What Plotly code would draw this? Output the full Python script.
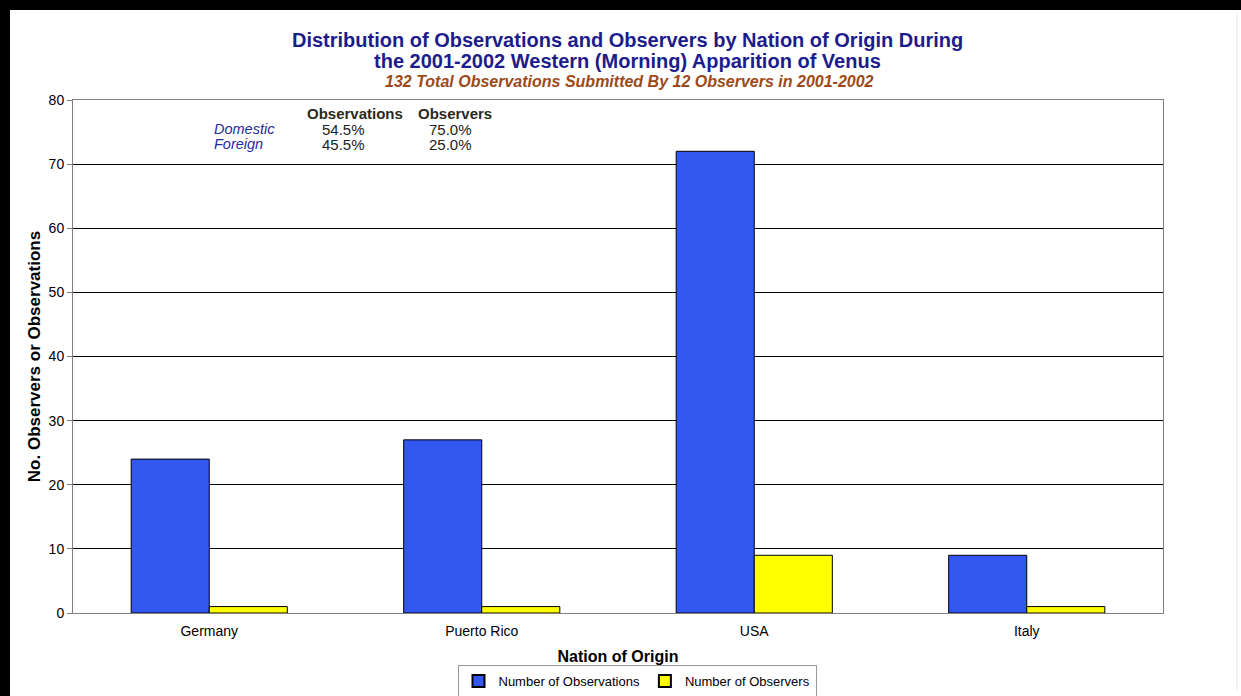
import plotly.graph_objects as go

# Venus 2001-2002 western apparition: counts by observer nation
nations = ["Germany", "Puerto Rico", "USA", "Italy"]
observations = [24, 27, 72, 9]
observers = [1, 1, 9, 1]

# summary table text
table_cols = ["Observations", "Observers"]
table_rows = ["Domestic", "Foreign"]
table_vals = [["54.5%", "75.0%"], ["45.5%", "25.0%"]]

W, H = 1241, 696
ML, MR, MT, MB = 73, 78, 100, 83
PW, PH = W - ML - MR, H - MT - MB


def px_x(x):
    return (x - ML) / PW


def px_y(y):
    return (H - MB - y) / PH


FONT = "Liberation Sans, Arial, sans-serif"

fig = go.Figure()
fig.add_trace(go.Bar(
    x=nations, y=observations, name="Number of Observations",
    marker=dict(color="#3358f2", line=dict(color="#000000", width=1)),
))
fig.add_trace(go.Bar(
    x=nations, y=observers, name="Number of Observers",
    marker=dict(color="#ffff00", line=dict(color="#000000", width=1)),
))


def label(text, x, y, size, color, xanchor="center"):
    return dict(text=text, x=px_x(x), y=px_y(y), xref="paper", yref="paper",
                showarrow=False, xanchor=xanchor, yanchor="middle",
                font=dict(family=FONT, size=size, color=color))


annotations = [
    label("<b>Distribution of Observations and Observers by Nation of Origin During</b>",
          627, 40, 20, "#1c1c8c"),
    label("<b>the 2001-2002 Western (Morning) Apparition of Venus</b>", 627, 61, 20, "#1c1c8c"),
    label("<b><i>132 Total Observations Submitted By 12 Observers in 2001-2002</i></b>",
          629, 82, 16, "#9c4a1a"),
]

for cx, c in zip([355, 455], table_cols):
    annotations.append(label("<b>" + c + "</b>", cx, 113, 15, "#2a2a1a"))
for ry, r, vals in zip([129, 144], table_rows, table_vals):
    annotations.append(label("<i>" + r + "</i>", 212, ry, 14.5, "#2a2a9a", xanchor="left"))
    for cx, v in zip([343, 450], vals):
        annotations.append(label(v, cx, ry, 15, "#222222"))

shapes = [
    # heavy black frame on the top and left edges
    dict(type="rect", xref="paper", yref="paper", x0=px_x(0), x1=px_x(W), y0=px_y(10), y1=px_y(0),
         fillcolor="#000000", line=dict(width=0), layer="above"),
    dict(type="rect", xref="paper", yref="paper", x0=px_x(0), x1=px_x(10), y0=px_y(H), y1=px_y(0),
         fillcolor="#000000", line=dict(width=0), layer="above"),
    # faint chart-area outline
    dict(type="line", xref="paper", yref="paper", x0=px_x(1237), x1=px_x(1237), y0=px_y(690), y1=px_y(14),
         line=dict(color="#e4e4e4", width=1)),
]

fig.update_layout(
    width=W, height=H,
    margin=dict(l=ML, r=MR, t=MT, b=MB, autoexpand=False),
    paper_bgcolor="#ffffff", plot_bgcolor="#ffffff",
    barmode="group", bargap=0.427, bargroupgap=0,
    font=dict(family=FONT, size=14, color="#000000"),
    showlegend=True,
    legend=dict(orientation="h", x=637 / W, xanchor="center", xref="container",
                y=1 - 681 / H, yanchor="middle", yref="container",
                bordercolor="#9a9a9a", borderwidth=1, bgcolor="#ffffff",
                font=dict(family=FONT, size=13), itemwidth=30, tracegroupgap=0,
                itemsizing="constant"),
    annotations=annotations,
    shapes=shapes,
    xaxis=dict(
        automargin=False,
        showgrid=False, showline=True, linecolor="#808080", linewidth=1, mirror=True,
        ticks="", tickfont=dict(family=FONT, size=14), ticklabelstandoff=5,
        title=dict(text="<b>Nation of Origin</b>", font=dict(family=FONT, size=16), standoff=14),
    ),
    yaxis=dict(
        automargin=False,
        range=[0, 80], dtick=10, showgrid=True, gridcolor="#000000", gridwidth=1,
        showline=True, linecolor="#808080", linewidth=1, mirror=True,
        ticks="outside", ticklen=5, tickcolor="#808080",
        tickfont=dict(family=FONT, size=14), zeroline=False,
        title=dict(text="<b>No. Observers or Observations</b>", font=dict(family=FONT, size=17), standoff=3),
    ),
)

fig.write_html("out.html")
